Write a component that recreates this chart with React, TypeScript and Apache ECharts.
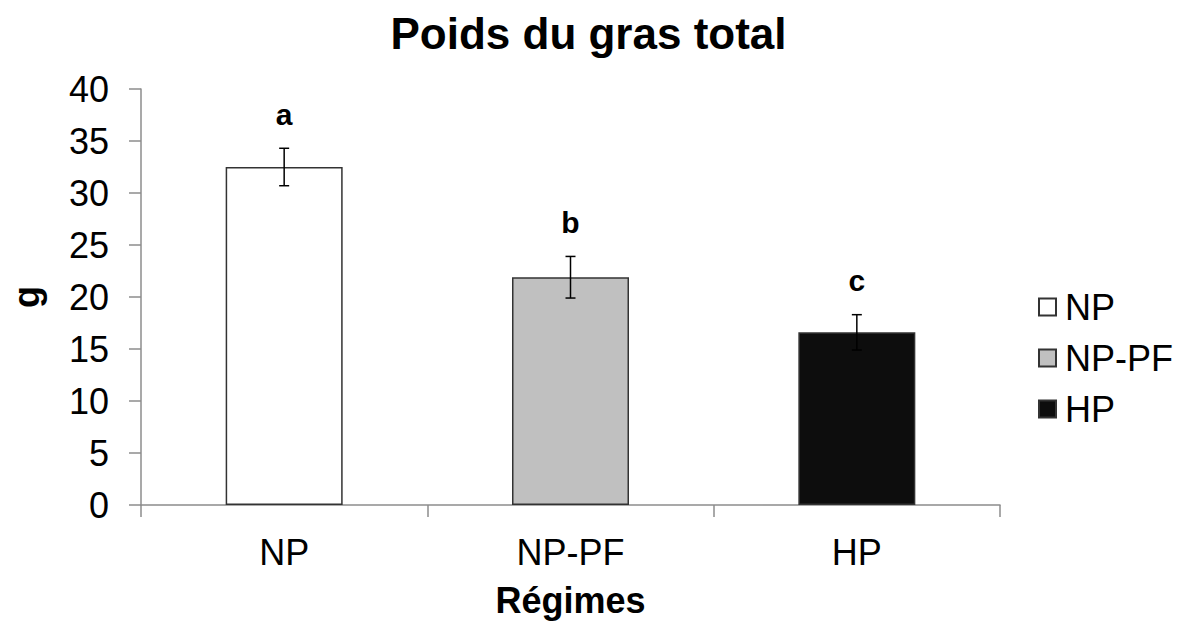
import React, { useEffect, useRef } from "react";
import * as echarts from "echarts";

const categories = ["NP", "NP-PF", "HP"];
const means = [32.5, 21.9, 16.6];
const errors = [1.8, 2.0, 1.7];
const letters = ["a", "b", "c"];
const yTicks = { min: 0, max: 40, interval: 5 };

const FONT = '"Liberation Sans", Arial, Helvetica, sans-serif';
const barColors = ["#ffffff", "#c0c0c0", "#0d0d0d"];

export default function App() {
  const ref = useRef<HTMLDivElement>(null);
  useEffect(() => {
    if (!ref.current) return;
    const chart = echarts.init(ref.current, undefined, { renderer: "svg" });
    const barSeries = categories.map((name, i) => ({
      name,
      type: "bar",
      stack: "all",
      barWidth: 117,
      data: means.map((v, j) => (j === i ? v : "-")),
      itemStyle: { color: barColors[i], borderColor: "#333333", borderWidth: 1.5 },
    }));
    const errData = means.map((m, i) => [i, m - errors[i], m + errors[i]]);
    chart.setOption({
      animation: false,
      backgroundColor: "#ffffff",
      title: {
        text: "Poids du gras total",
        left: "center",
        top: 6,
        textStyle: { fontFamily: FONT, fontSize: 44, fontWeight: "bold", color: "#000" },
      },
      legend: {
        orient: "vertical",
        left: 1033,
        top: 284,
        itemWidth: 17,
        itemHeight: 17,
        itemGap: 15,
        icon: "rect",
        textStyle: { fontFamily: FONT, fontSize: 36, color: "#000", lineHeight: 36, padding: [0, 0, 0, 4] },
        data: categories,
      },
      grid: { left: 137, right: 177, top: 89, bottom: 109, containLabel: false },
      xAxis: {
        type: "category",
        data: categories,
        name: "Régimes",
        nameLocation: "middle",
        nameGap: 77,
        nameTextStyle: { fontFamily: FONT, fontSize: 36, fontWeight: "bold", color: "#000" },
        axisLine: { lineStyle: { color: "#8c8c8c", width: 1.5 } },
        axisTick: { show: true, length: 12, lineStyle: { color: "#8c8c8c", width: 1.5 } },
        axisLabel: { fontFamily: FONT, fontSize: 36, color: "#000", margin: 29 },
        splitLine: { show: false },
      },
      yAxis: {
        type: "value",
        min: yTicks.min,
        max: yTicks.max,
        interval: yTicks.interval,
        name: "g",
        nameLocation: "middle",
        nameGap: 97,
        nameRotate: 90,
        nameTextStyle: { fontFamily: FONT, fontSize: 36, fontWeight: "bold", color: "#000" },
        axisLine: { show: true, lineStyle: { color: "#8c8c8c", width: 1.5 } },
        axisTick: { show: true, length: 12, lineStyle: { color: "#8c8c8c", width: 1.5 } },
        axisLabel: { fontFamily: FONT, fontSize: 36, color: "#000", margin: 32 },
        splitLine: { show: false },
      },
      series: [
        ...barSeries,
        {
          type: "custom",
          name: "err",
          z: 10,
          data: errData,
          renderItem: (params: any, api: any) => {
            const x = api.value(0);
            const pHi = api.coord([x, api.value(2)]);
            const pLo = api.coord([x, api.value(1)]);
            const cap = 5;
            const ls = { stroke: "#000", lineWidth: 1.5 };
            return {
              type: "group",
              children: [
                { type: "line", shape: { x1: pHi[0], y1: pHi[1], x2: pLo[0], y2: pLo[1] }, style: ls },
                { type: "line", shape: { x1: pHi[0] - cap, y1: pHi[1], x2: pHi[0] + cap, y2: pHi[1] }, style: ls },
                { type: "line", shape: { x1: pLo[0] - cap, y1: pLo[1], x2: pLo[0] + cap, y2: pLo[1] }, style: ls },
                {
                  type: "text",
                  x: pHi[0],
                  y: pHi[1] - 34,
                  style: {
                    text: letters[params.dataIndex],
                    fontFamily: FONT,
                    fontSize: 30,
                    fontWeight: "bold",
                    fill: "#000",
                    align: "center",
                    verticalAlign: "middle",
                  },
                },
              ],
            };
          },
        },
      ],
    });
    return () => chart.dispose();
  }, []);
  return (
    <div
      ref={ref}
      style={{ position: "fixed", left: 0, top: 0, width: 1177, height: 623, background: "#fff" }}
    />
  );
}
